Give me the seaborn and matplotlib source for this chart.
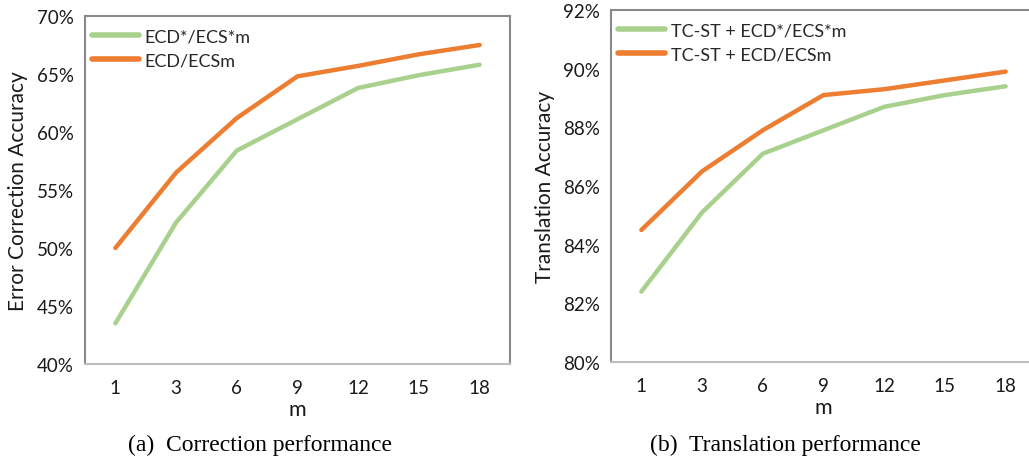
import matplotlib
matplotlib.use("Agg")
import matplotlib.pyplot as plt
import seaborn as sns
import pandas as pd
from matplotlib.ticker import PercentFormatter, MultipleLocator

m_values = ["1", "3", "6", "9", "12", "15", "18"]

corr_star = [43.5, 52.2, 58.4, 61.1, 63.8, 64.9, 65.8]
corr_full = [50.0, 56.5, 61.2, 64.8, 65.7, 66.7, 67.5]

trans_star = [82.4, 85.1, 87.1, 87.9, 88.7, 89.1, 89.4]
trans_full = [84.5, 86.5, 87.9, 89.1, 89.3, 89.6, 89.9]

left_labels = ["ECD*/ECS*m", "ECD/ECSm"]
right_labels = ["TC-ST + ECD*/ECS*m", "TC-ST + ECD/ECSm"]

sns.set_theme(style="white")
plt.rcParams['font.family'] = ['Lato', 'DejaVu Sans']

GREEN = "#a9d18e"
ORANGE = "#ed7d31"
SPINE = "#898989"

fig = plt.figure(figsize=(10.29, 4.64), dpi=100)
axL = fig.add_axes([85/1029, (464-365)/464, 425/1029, 348/464])
axR = fig.add_axes([611/1029, (464-363)/464, 425/1029, 352/464])


def make_df(a, b, labels):
    return pd.DataFrame({
        "m": m_values * 2,
        "acc": a + b,
        "series": [labels[0]] * len(m_values) + [labels[1]] * len(m_values),
    })


def draw(ax, df, labels, ylim, step, ylabel):
    sns.lineplot(data=df, x="m", y="acc", hue="series", hue_order=labels,
                 palette=[GREEN, ORANGE], linewidth=3.2, ax=ax, sort=False,
                 solid_capstyle="round")
    ax.set_xlim(-0.5, 6.5)
    ax.set_ylim(*ylim)
    ax.yaxis.set_major_locator(MultipleLocator(step))
    ax.yaxis.set_major_formatter(PercentFormatter(decimals=0))
    ax.tick_params(axis="both", length=0, labelsize=13.5, colors="#1a1a1a")
    ax.tick_params(axis="x", pad=11)
    ax.tick_params(axis="y", pad=8)
    ax.set_xlabel("m", fontsize=15.5, labelpad=2, color="#1a1a1a")
    ax.set_ylabel(ylabel, fontsize=15, labelpad=6, color="#1a1a1a")
    for s in ax.spines.values():
        s.set_color(SPINE)
        s.set_linewidth(1.5)
    ax.spines["bottom"].set_color("#bdbdbd")
    leg = ax.legend(loc="upper left", frameon=False, fontsize=13,
                    handlelength=2.6, handletextpad=0.3, labelspacing=0.45,
                    borderaxespad=0.0, bbox_to_anchor=(0.0, 0.986))
    for line in leg.get_lines():
        line.set_linewidth(4)
    ax.grid(False)


draw(axL, make_df(corr_star, corr_full, left_labels), left_labels,
     (40, 70), 5, "Error Correction Accuracy")
draw(axR, make_df(trans_star, trans_full, right_labels), right_labels,
     (80, 92), 2, "Translation Accuracy")

fig.text(260/1029, 1 - 445/464, "(a)  Correction performance", ha="center", va="center",
         fontsize=17, family="Liberation Serif", color="black")
fig.text(785/1029, 1 - 445/464, "(b)  Translation performance", ha="center", va="center",
         fontsize=17, family="Liberation Serif", color="black")

fig.savefig("out.png", dpi=100)
